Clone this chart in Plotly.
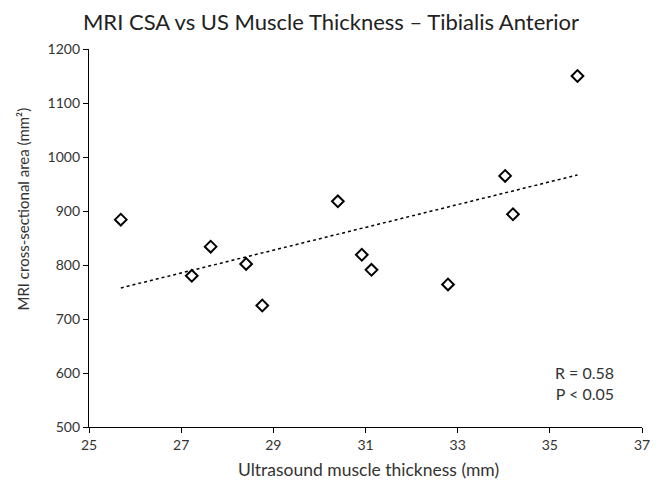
import numpy as np
import plotly.graph_objects as go

us_thickness = [25.69, 27.23, 27.64, 28.41, 28.76, 30.40, 30.92, 31.13, 32.79, 34.03, 34.20, 35.60]
mri_csa = [884, 780, 834, 802, 725, 918, 819, 791, 764, 965, 894, 1150]
x_ticks = [25, 27, 29, 31, 33, 35, 37]
y_ticks = [500, 600, 700, 800, 900, 1000, 1100, 1200]

slope, intercept = np.polyfit(us_thickness, mri_csa, 1)
x_fit = [min(us_thickness), max(us_thickness)]
y_fit = [slope * v + intercept for v in x_fit]

FONT = "Lato"
TXT = "#333333"
fig = go.Figure()
fig.add_trace(go.Scatter(x=x_fit, y=y_fit, mode="lines",
                         line=dict(color="black", width=1.5, dash="dot"),
                         hoverinfo="skip", showlegend=False))
fig.add_trace(go.Scatter(x=us_thickness, y=mri_csa, mode="markers",
                         marker=dict(symbol="diamond", size=9, color="white",
                                     line=dict(color="black", width=2)),
                         showlegend=False))

fig.update_layout(
    width=662, height=482,
    margin=dict(l=89, r=20, t=49, b=55),
    plot_bgcolor="white", paper_bgcolor="white",
    font=dict(family=FONT, color=TXT),
    title=dict(text="MRI CSA vs US Muscle Thickness – Tibialis Anterior",
               x=0.5, xanchor="center", y=0.953, yanchor="middle",
               font=dict(size=22, color="#222222", family=FONT)),
    xaxis=dict(range=[25, 37], tickvals=x_ticks, showgrid=False, zeroline=False,
               showline=True, linecolor="black", linewidth=1.2, automargin=False,
               ticks="outside", ticklen=5, tickcolor="black",
               tickfont=dict(size=14, color=TXT)),
    yaxis=dict(range=[500, 1200], tickvals=y_ticks, showgrid=False, zeroline=False,
               showline=True, linecolor="black", linewidth=1.2, automargin=False,
               ticks="outside", ticklen=5, tickcolor="black",
               tickfont=dict(size=14, color=TXT)),
    annotations=[
        dict(text="R = 0.58<br>P < 0.05", xref="paper", yref="paper",
             x=0.953, y=0.117, xanchor="right", yanchor="middle",
             align="right", showarrow=False,
             font=dict(size=16, color=TXT, family=FONT)),
        dict(text="Ultrasound muscle thickness (mm)", xref="paper", yref="paper",
             x=0.506, y=-0.112, xanchor="center", yanchor="middle",
             showarrow=False, font=dict(size=17.5, color=TXT, family=FONT)),
        dict(text="MRI cross-sectional area (mm²)", xref="paper", yref="paper",
             x=-0.12, y=0.577, xanchor="center", yanchor="middle", textangle=-90,
             showarrow=False, font=dict(size=15, color=TXT, family=FONT)),
    ],
)

fig.write_html("out.html", post_script="document.body.style.margin='0';",
               config={"displayModeBar": False})
